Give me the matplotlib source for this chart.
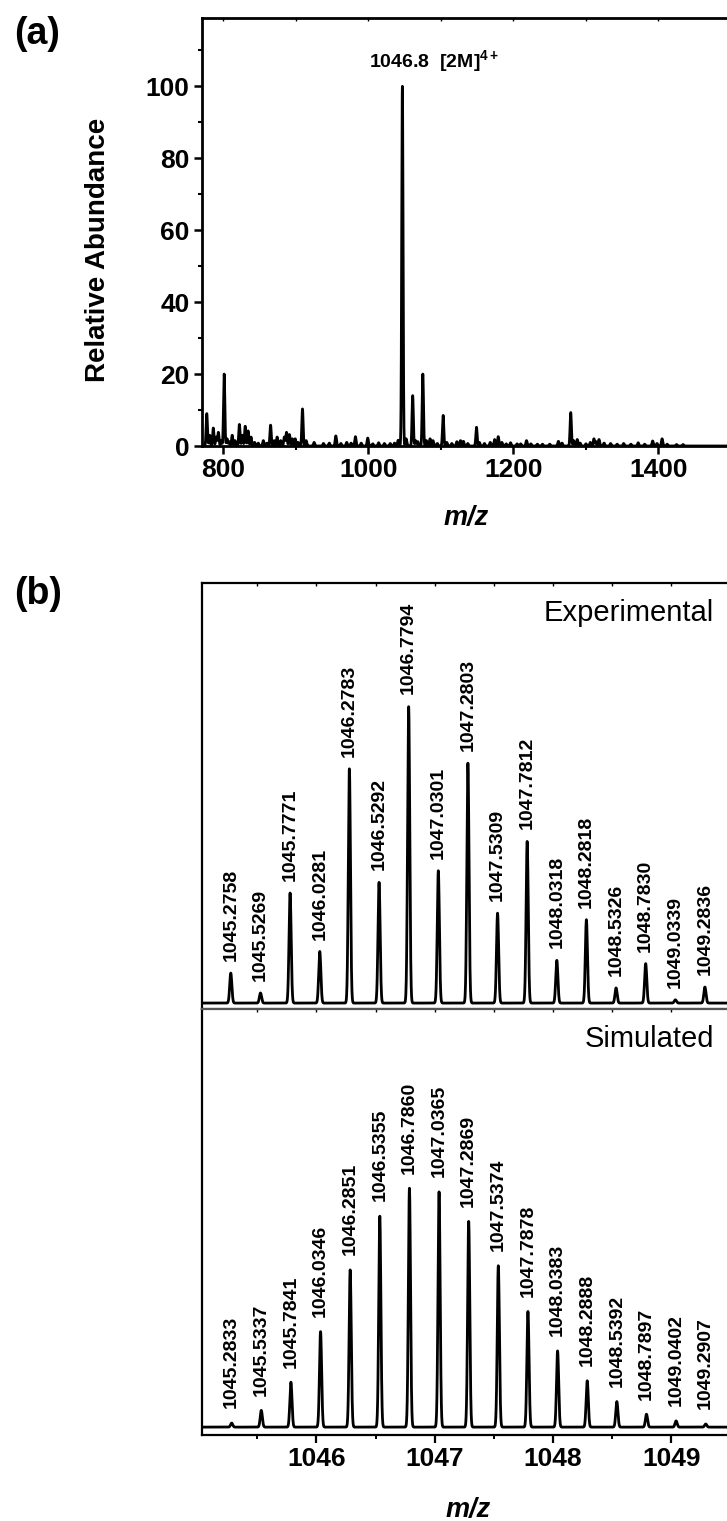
import matplotlib
matplotlib.use("Agg")
import matplotlib.pyplot as plt
from matplotlib.ticker import MultipleLocator
import numpy as np

# ---- panel (a): full scan, peak list ----
a_mz = [777, 781, 786, 790, 793, 797, 801, 805, 808, 812, 816, 822, 826, 830, 834,
        838, 843, 848, 855, 860, 865, 870, 874, 879, 884, 887, 891, 895, 899, 903,
        909, 914, 925, 938, 946, 955, 962, 970, 976, 982, 990, 999, 1006, 1014,
        1022, 1030, 1036, 1041, 1046.8, 1052, 1061, 1065, 1068, 1075, 1080, 1085,
        1089, 1095, 1103, 1108, 1115, 1122, 1127, 1131, 1137, 1149, 1153, 1160,
        1168, 1174, 1179, 1184, 1190, 1196, 1205, 1210, 1218, 1224, 1233, 1240,
        1250, 1262, 1267, 1279, 1283, 1288, 1292, 1300, 1306, 1311, 1314, 1318,
        1325, 1334, 1343, 1352, 1362, 1372, 1381, 1392, 1398, 1405, 1412, 1425, 1434]
a_int = [9.0, 3.0, 5.0, 2.5, 3.8, 1.5, 20.0, 2.0, 1.2, 3.0, 1.5, 6.0, 3.0, 5.5, 4.2,
         2.5, 1.0, 0.8, 1.5, 0.8, 5.8, 1.5, 2.5, 1.5, 2.5, 3.8, 3.2, 2.0, 2.0, 1.0,
         10.3, 1.5, 1.0, 0.7, 0.8, 2.8, 0.7, 1.0, 0.8, 2.6, 0.8, 2.2, 0.6, 0.9,
         0.7, 0.7, 0.8, 1.6, 100, 2.0, 14.0, 1.5, 1.2, 20.0, 1.5, 2.0,
         1.5, 0.7, 8.5, 1.0, 0.7, 1.2, 1.5, 1.3, 0.7, 5.2, 1.0, 0.7,
         1.0, 1.8, 2.6, 1.0, 0.6, 0.9, 0.6, 0.6, 1.5, 0.6, 0.5, 0.5,
         0.5, 1.3, 0.8, 9.3, 1.5, 1.8, 0.8, 0.6, 1.0, 2.0, 1.2, 1.8,
         0.8, 0.7, 0.5, 0.7, 0.5, 0.9, 0.5, 1.4, 0.7, 2.0, 0.5, 0.4, 0.4]

# ---- panel (b): isotope pattern ----
exp_mz = [1045.2758, 1045.5269, 1045.7771, 1046.0281, 1046.2783, 1046.5292, 1046.7794,
          1047.0301, 1047.2803, 1047.5309, 1047.7812, 1048.0318, 1048.2818, 1048.5326,
          1048.7830, 1049.0339, 1049.2836]
exp_int = [10.1, 3.4, 37.1, 17.4, 79.0, 40.7, 100, 44.6, 80.9, 30.3, 54.5, 14.4, 28.1,
           5.1, 13.3, 1.1, 5.4]
sim_mz = [1045.2833, 1045.5337, 1045.7841, 1046.0346, 1046.2851, 1046.5355, 1046.7860,
          1047.0365, 1047.2869, 1047.5374, 1047.7878, 1048.0383, 1048.2888, 1048.5392,
          1048.7897, 1049.0402, 1049.2907]
sim_int = [1.7, 7.0, 18.8, 40.0, 65.8, 88.4, 100, 98.6, 86.1, 67.6, 48.4, 31.9, 19.4,
           10.7, 5.4, 2.6, 1.3]

W, H = 727, 1521
plt.rcParams["font.family"] = ["Liberation Sans", "DejaVu Sans"]
plt.rcParams["mathtext.fontset"] = "custom"
plt.rcParams["mathtext.rm"] = "Liberation Sans"
plt.rcParams["mathtext.bf"] = "Liberation Sans:bold"


def box(left, top, right, bottom):
    # pixel box (y down) -> figure fraction rect
    return [left / W, 1 - bottom / H, (right - left) / W, (bottom - top) / H]


def profile(x, centers, heights, sigma):
    y = np.zeros_like(x)
    for c, h in zip(centers, heights):
        y += h * np.exp(-0.5 * ((x - c) / sigma) ** 2)
    return y


def ftext(x, y, s, **kw):
    fig.text(x / W, 1 - y / H, s, **kw)


fig = plt.figure(figsize=(W / 100, H / 100), dpi=100)

# ---------------- (a) ----------------
ax = fig.add_axes(box(201.7, 18, 767.2, 446))
xa = np.arange(760, 1560, 0.1)
ax.plot(xa, profile(xa, a_mz, a_int, 0.9), color="black", lw=2.0)
ax.set_xlim(770, 1550)
ax.set_ylim(0, 119)
ax.xaxis.set_major_locator(MultipleLocator(200))
ax.xaxis.set_minor_locator(MultipleLocator(100))
ax.yaxis.set_major_locator(MultipleLocator(20))
ax.yaxis.set_minor_locator(MultipleLocator(10))
for s in ax.spines.values():
    s.set_linewidth(2.0)
ax.tick_params(which="major", direction="out", length=5.8, width=1.8,
               labelsize=19, pad=3)
ax.tick_params(which="minor", direction="out", length=3, width=1.5)
ax.tick_params(axis="x", which="both", top=False, labeltop=False)
for lab in ax.get_xticklabels() + ax.get_yticklabels():
    lab.set_fontweight("bold")
# top ticks small and inward
ax2 = ax.secondary_xaxis("top")
ax2.xaxis.set_major_locator(MultipleLocator(100))
ax2.tick_params(direction="in", length=2.5, width=1.0, labeltop=False)
ax2.spines["top"].set_visible(False)

ftext(369, 62, "1046.8  [2M]$^{\\mathbf{4+}}$", fontsize=14, fontweight="bold",
      ha="left", va="center")
ftext(98, 250, "Relative Abundance", rotation=90, fontsize=20, fontweight="bold",
      ha="center", va="center")
ftext(466, 518, "m/z", fontsize=19.5, fontweight="bold", style="italic",
      ha="center", va="center")
ftext(37, 34, "(a)", fontsize=27, fontweight="bold", ha="center", va="center")

# ---------------- (b) ----------------
xb = np.arange(1044.9, 1050.1, 0.001)
ax_e = fig.add_axes(box(201.7, 583, 766.0, 1009))
ax_s = fig.add_axes(box(201.7, 1009, 766.0, 1435))

panels = [(ax_e, exp_mz, exp_int, (-2, 141.6), 8.6, "Experimental", 613),
          (ax_s, sim_mz, sim_int, (-3.3, 175), 10.5, "Simulated", 1039)]
for a, mz, inten, ylim, off, name, ty in panels:
    a.plot(xb, profile(xb, mz, inten, 0.009), color="black", lw=2.0)
    a.set_xlim(1045.03, 1049.8)
    a.set_ylim(*ylim)
    a.set_yticks([])
    a.xaxis.set_major_locator(MultipleLocator(1))
    a.xaxis.set_minor_locator(MultipleLocator(0.5))
    for s in a.spines.values():
        s.set_linewidth(1.6)
    for m, h in zip(mz, inten):
        a.annotate("%.4f" % m, (m, h), xytext=(0, off), textcoords="offset points",
                   rotation=90, ha="center", va="bottom", fontsize=14,
                   fontweight="bold")
    ftext(714, ty, name, fontsize=21, ha="right", va="center")

ax_e.spines["bottom"].set_color("#555555")
ax_e.tick_params(which="both", bottom=False, labelbottom=False, top=True,
                 direction="in", length=2.5, width=1.0)
ax_s.spines["top"].set_color("#555555")
ax_s.tick_params(which="major", bottom=True, top=False, direction="out", length=5.8,
                 width=1.6, labelsize=19, pad=3)
ax_s.tick_params(which="minor", bottom=True, top=False, direction="out", length=3,
                 width=1.4)
ax_s2 = ax_s.secondary_xaxis("top")
ax_s2.xaxis.set_major_locator(MultipleLocator(0.5))
ax_s2.tick_params(direction="in", length=2.5, width=1.0, labeltop=False)
ax_s2.spines["top"].set_visible(False)
for lab in ax_s.get_xticklabels():
    lab.set_fontweight("bold")

ftext(468, 1510, "m/z", fontsize=19.5, fontweight="bold", style="italic",
      ha="center", va="center")
ftext(38, 594, "(b)", fontsize=27, fontweight="bold", ha="center", va="center")

fig.savefig("out.png", dpi=100)
